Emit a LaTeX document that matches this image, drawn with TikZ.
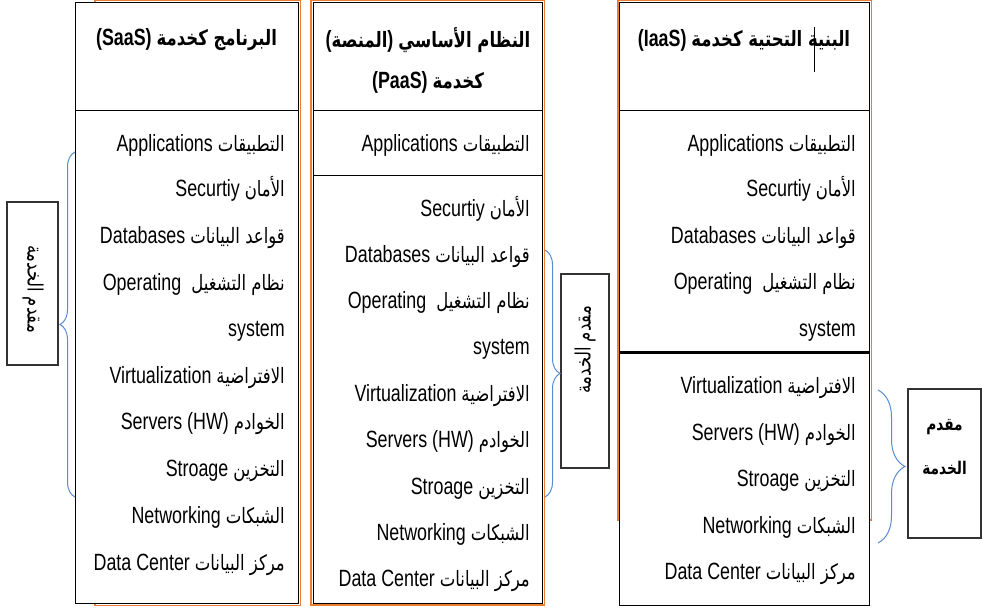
\documentclass[tikz,border=0pt]{standalone}
\usepackage{fontspec}
\setmainfont{Liberation Sans}[FakeStretch=0.76]
\newfontfamily\arabicfont[Script=Arabic, Scale=0.9, FakeStretch=0.78]{DejaVu Sans}
\TeXXeTstate=1
\usetikzlibrary{decorations.pathreplacing}
\definecolor{frameorange}{HTML}{ED7D31}
\definecolor{braceblue}{HTML}{5B8BD0}
\newcommand{\bodysize}{\fontsize{23.5}{28}\selectfont}
\newcommand{\arb}[1]{{\arabicfont #1}}
\newcommand{\mixline}[2]{\beginR\arb{#1} \beginL #2\endL\endR}

\tikzset{
    shadow/.style={draw=frameorange, line width=1.2pt},
    col/.style={draw=black, fill=white, line width=1pt},
    item/.style={anchor=base east, inner sep=0pt, font=\bodysize},
    head/.style={font=\bodysize\bfseries, inner sep=0pt},
    tagtext/.style={font=\bodysize, inner sep=0pt},
    tagbox/.style={draw=black!80, line width=1.2pt, inner sep=0pt},
    brc/.style={draw=braceblue, line width=1pt, decorate, decoration={brace}},
}

\begin{document}
\begin{tikzpicture}[x=1pt, y=-1pt]
    \useasboundingbox (0,0) rectangle (988,609);

    % orange frames behind the columns
    \draw[shadow] (95,0.8) rectangle (300.5,605.8);
    \draw[shadow] (311,0.8) rectangle (544.5,605);
    \draw[shadow] (618,0.8) rectangle (871.5,520);

    % columns
    \draw[col] (75,3) rectangle (298,603);
    \draw (75,110) -- (298,110);
    \draw[col] (313,3) rectangle (542.5,603);
    \draw (313,110) -- (542.5,110);
    \draw (313,175) -- (542.5,175);
    \draw[col] (619.5,3) rectangle (869.5,605);
    \draw (619.5,110) -- (869.5,110);
    \draw[line width=3pt] (619.5,352.5) -- (869.5,352.5);
    \draw[line width=0.8pt] (814,27) -- (814,72);

    % SaaS
    \node[head] (sHead) at (186.5,40) {\beginR\arb{البرنامج كخدمة} \beginL(SaaS)\endL\endR};
    \node[item] (s1) at (285,151.5) {\mixline{التطبيقات}{Applications}};
    \node[item] (s2) at (285,196.5) {\mixline{الأمان}{Securtiy}};
    \node[item] (s3) at (285,243.5) {\mixline{قواعد البيانات}{Databases}};
    \node[item] (s4) at (285,290.5) {\mixline{نظام التشغيل }{Operating}};
    \node[item] (s5) at (285,336.5) {system};
    \node[item] (s6) at (285,383.5) {\mixline{الافتراضية}{Virtualization}};
    \node[item] (s7) at (285,429.5) {\mixline{الخوادم}{Servers (HW)}};
    \node[item] (s8) at (285,476.5) {\mixline{التخزين}{Stroage}};
    \node[item] (s9) at (285,523.5) {\mixline{الشبكات}{Networking}};
    \node[item] (s10) at (285,570.5) {\mixline{مركز البيانات}{Data Center}};

    % PaaS
    \node[head] (pHead) at (428,40) {\beginR\arb{النظام الأساسي} \beginL(\arb{المنصة})\endL\endR};
    \node[head] (pHeadB) at (428,82) {\beginR\arb{كخدمة} \beginL(PaaS)\endL\endR};
    \node[item] (p1) at (530,151.5) {\mixline{التطبيقات}{Applications}};
    \node[item] (p2) at (530,216.5) {\mixline{الأمان}{Securtiy}};
    \node[item] (p3) at (530,262.5) {\mixline{قواعد البيانات}{Databases}};
    \node[item] (p4) at (530,308.5) {\mixline{نظام التشغيل }{Operating}};
    \node[item] (p5) at (530,354.5) {system};
    \node[item] (p6) at (530,401.5) {\mixline{الافتراضية}{Virtualization}};
    \node[item] (p7) at (530,447.5) {\mixline{الخوادم}{Servers (HW)}};
    \node[item] (p8) at (530,494.5) {\mixline{التخزين}{Stroage}};
    \node[item] (p9) at (530,540.5) {\mixline{الشبكات}{Networking}};
    \node[item] (p10) at (530,586.5) {\mixline{مركز البيانات}{Data Center}};

    % IaaS
    \node[head] (iHead) at (744,40) {\beginR\arb{البنية التحتية كخدمة} \beginL(IaaS)\endL\endR};
    \node[item] (i1) at (856,151.5) {\mixline{التطبيقات}{Applications}};
    \node[item] (i2) at (856,196.5) {\mixline{الأمان}{Securtiy}};
    \node[item] (i3) at (856,243.5) {\mixline{قواعد البيانات}{Databases}};
    \node[item] (i4) at (856,289.5) {\mixline{نظام التشغيل }{Operating}};
    \node[item] (i5) at (856,336.5) {system};
    \node[item] (i6) at (856,393.5) {\mixline{الافتراضية}{Virtualization}};
    \node[item] (i7) at (856,440.5) {\mixline{الخوادم}{Servers (HW)}};
    \node[item] (i8) at (856,486.5) {\mixline{التخزين}{Stroage}};
    \node[item] (i9) at (856,533.5) {\mixline{الشبكات}{Networking}};
    \node[item] (i10) at (856,579.5) {\mixline{مركز البيانات}{Data Center}};

    % provider tags
    \node[tagbox, minimum width=51pt, minimum height=163pt] (tagS) at (32.5,283.5) {};
    \node[tagtext, rotate=-90] (tagStxt) at (33,289) {\beginR\arb{مقدم الخدمة}\endR};
    \node[tagbox, minimum width=48pt, minimum height=194pt] (tagP) at (585,371) {};
    \node[tagtext, rotate=90] (tagPtxt) at (585,350) {\beginR\arb{مقدم  الخدمة}\endR};
    \node[tagbox, minimum width=73pt, minimum height=149pt] (tagI) at (944.5,463.5) {};
    \node[head, font=\fontsize{19.5}{24}\selectfont\bfseries] (tagItxt) at (944.5,427) {\beginR\arb{مقدم}\endR};
    \node[head, font=\fontsize{19.5}{24}\selectfont\bfseries] (tagItxtB) at (944.5,468) {\beginR\arb{الخدمة}\endR};

    % braces
    \coordinate (sTop) at (75,152);
    \coordinate (sBot) at (75,497);
    \coordinate (pTop) at (545,250);
    \coordinate (pBot) at (545,497);
    \coordinate (iTop) at (878,390);
    \coordinate (iBot) at (878,543);
    \draw[brc, decoration={amplitude=15pt}] (sBot) -- (sTop);
    \draw[brc, decoration={amplitude=15pt}] (pTop) -- (pBot);
    \draw[brc, decoration={amplitude=27pt}] (iTop) -- (iBot);
\end{tikzpicture}
\end{document}
